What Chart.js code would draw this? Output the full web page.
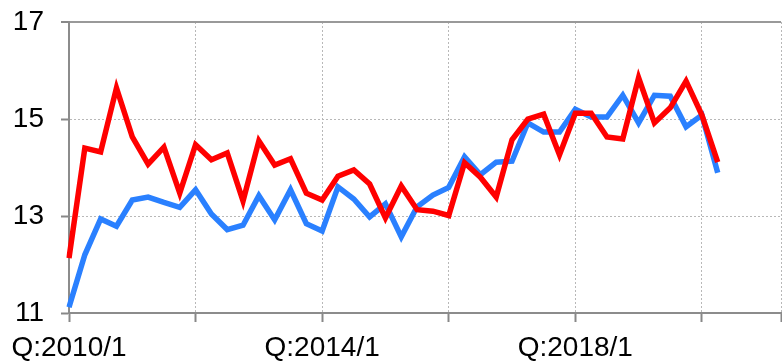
<!DOCTYPE html>
<html>
<head>
<meta charset="utf-8">
<script src="https://cdn.jsdelivr.net/npm/chart.js@4"></script>
<style>
  html, body { margin: 0; padding: 0; background: #fff; }
  #wrap { width: 782px; height: 361px; }
</style>
</head>
<body>
<div id="wrap"><canvas id="chart" width="782" height="361"></canvas></div>
<script>
// quarters 2010Q1 .. 2021Q2 (axis runs a bit past the data)
const quarters = [
  'Q:2010/1','Q:2010/2','Q:2010/3','Q:2010/4','Q:2011/1','Q:2011/2','Q:2011/3','Q:2011/4',
  'Q:2012/1','Q:2012/2','Q:2012/3','Q:2012/4','Q:2013/1','Q:2013/2','Q:2013/3','Q:2013/4',
  'Q:2014/1','Q:2014/2','Q:2014/3','Q:2014/4','Q:2015/1','Q:2015/2','Q:2015/3','Q:2015/4',
  'Q:2016/1','Q:2016/2','Q:2016/3','Q:2016/4','Q:2017/1','Q:2017/2','Q:2017/3','Q:2017/4',
  'Q:2018/1','Q:2018/2','Q:2018/3','Q:2018/4','Q:2019/1','Q:2019/2','Q:2019/3','Q:2019/4',
  'Q:2020/1','Q:2020/2','Q:2020/3','Q:2020/4','Q:2021/1','Q:2021/2'
];
const xTickLabels = ['Q:2010/1', 'Q:2014/1', 'Q:2018/1'];
const yTicks = [11, 13, 15, 17];

const redSeries = [12.13, 14.40, 14.32, 15.64, 14.63, 14.07, 14.42, 13.47, 14.47, 14.16, 14.30, 13.31,
  14.55, 14.05, 14.18, 13.47, 13.33, 13.82, 13.95, 13.66, 12.96, 13.62, 13.13, 13.10, 13.01, 14.10,
  13.80, 13.39, 14.57, 15.00, 15.10, 14.26, 15.12, 15.12, 14.63, 14.59, 15.85, 14.92, 15.23, 15.78,
  15.08, 14.11];
const blueSeries = [11.12, 12.20, 12.94, 12.79, 13.33, 13.39, 13.28, 13.18, 13.54, 13.04, 12.72, 12.81,
  13.42, 12.92, 13.54, 12.84, 12.69, 13.60, 13.35, 12.98, 13.25, 12.57, 13.19, 13.43, 13.59, 14.22,
  13.85, 14.11, 14.13, 14.92, 14.73, 14.73, 15.20, 15.04, 15.04, 15.49, 14.92, 15.49, 15.47, 14.84,
  15.08, 13.89];

const lastIdx = quarters.length - 1;
const font = { family: '"Liberation Sans", Arial, sans-serif', size: 28 };

new Chart(document.getElementById('chart'), {
  type: 'line',
  data: {
    labels: quarters,
    datasets: [
      { data: redSeries, borderColor: '#ff0000', borderWidth: 5.5, pointRadius: 0, tension: 0, fill: false },
      { data: blueSeries, borderColor: '#2a80ff', borderWidth: 5.5, pointRadius: 0, tension: 0, fill: false }
    ]
  },
  options: {
    responsive: false,
    animation: false,
    events: [],
    layout: { padding: { top: 22, right: 1, left: 0, bottom: 0 } },
    plugins: { legend: { display: false }, tooltip: { enabled: false } },
    scales: {
      x: {
        offset: false,
        afterFit: (s) => { s.height = 48; s.paddingLeft = 0; s.paddingRight = 0; },
        ticks: {
          autoSkip: false,
          maxRotation: 0,
          color: '#000',
          font: font,
          padding: 9,
          callback: function (v, i) {
            const lab = quarters[i];
            if (xTickLabels.includes(lab)) return lab;
            if (i % 8 === 0 || i === lastIdx) return '';
            return null;
          }
        },
        grid: {
          color: (c) => (c.index === lastIdx ? '#b0b0b0' : '#b8b8b8'),
          lineWidth: 1,
          tickLength: 9,
          tickColor: '#888',
          tickWidth: 2
        },
        border: {
          color: '#8c8c8c',
          width: 2,
          dash: (c) => (c.index === lastIdx ? [] : [2, 2])
        }
      },
      y: {
        min: 11,
        max: 17,
        afterFit: (s) => { s.width = 69; s.paddingTop = 0; s.paddingBottom = 0; },
        afterBuildTicks: (s) => { s.ticks = yTicks.map((v) => ({ value: v })); },
        ticks: { color: '#000', font: font, padding: 17 },
        grid: {
          color: (c) => (c.tick && c.tick.value === 17 ? '#999' : '#b8b8b8'),
          lineWidth: (c) => (c.tick && c.tick.value === 17 ? 2 : 1),
          tickLength: 8,
          tickColor: '#888',
          tickWidth: 2
        },
        border: {
          color: '#8c8c8c',
          width: 2,
          dash: (c) => (c.tick && c.tick.value === 17 ? [] : [2, 2])
        }
      }
    }
  }
});
</script>
</body>
</html>
